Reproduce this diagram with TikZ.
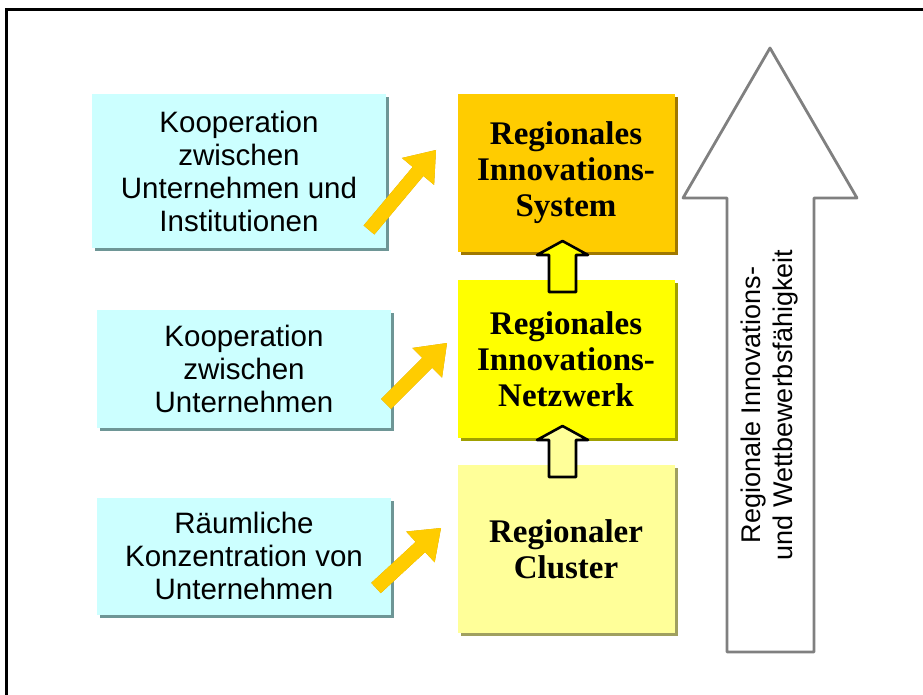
\documentclass[tikz,border=0pt]{standalone}
\usepackage{fontspec}
\setmainfont{Liberation Serif}
\newfontfamily\arialfont{Liberation Sans}
\usetikzlibrary{calc,shadows}
\definecolor{cyanfill}{HTML}{CCFFFF}
\definecolor{cyanshadow}{HTML}{6E9696}
\definecolor{sysfill}{HTML}{FFCC00}
\definecolor{sysshadow}{HTML}{A07800}
\definecolor{netfill}{HTML}{FFFF00}
\definecolor{netshadow}{HTML}{A0A000}
\definecolor{clufill}{HTML}{FFFF99}
\definecolor{clushadow}{HTML}{A0A060}
\definecolor{arrgold}{HTML}{FFCC00}
\definecolor{arrdark}{HTML}{C89600}
\definecolor{biggray}{HTML}{808080}
\tikzset{
  cyanbox/.style={fill=cyanfill, minimum width=294pt, inner sep=0pt, align=center,
    font=\arialfont\fontsize{29.5}{33}\selectfont,
    drop shadow={shadow xshift=3pt, shadow yshift=-3pt, fill=cyanshadow, opacity=1}},
  midbox/.style={minimum width=217pt, inner sep=0pt, align=center,
    font=\bfseries\fontsize{33}{36}\selectfont},
  upblock/.style={draw=black, line width=2.6pt, line join=round},
  bigarrow/.style={draw=biggray, fill=white, line width=2.8pt, line join=round},
}
\newcommand\diagarrow[2]{%
  \fill[arrdark, shift={(2.5pt,-2.5pt)}]
    ($(#1)!7pt!90:(#2)$) -- ($($(#2)!28pt!(#1)$)!7pt!-90:(#1)$) -- ($($(#2)!28pt!(#1)$)!21pt!-90:(#1)$) -- (#2)
    -- ($($(#2)!28pt!(#1)$)!21pt!90:(#1)$) -- ($($(#2)!28pt!(#1)$)!7pt!90:(#1)$) -- ($(#1)!7pt!-90:(#2)$) -- cycle;
  \fill[arrgold]
    ($(#1)!7pt!90:(#2)$) -- ($($(#2)!28pt!(#1)$)!7pt!-90:(#1)$) -- ($($(#2)!28pt!(#1)$)!21pt!-90:(#1)$) -- (#2)
    -- ($($(#2)!28pt!(#1)$)!21pt!90:(#1)$) -- ($($(#2)!28pt!(#1)$)!7pt!90:(#1)$) -- ($(#1)!7pt!-90:(#2)$) -- cycle;
}
\begin{document}
\begin{tikzpicture}[x=1pt,y=-1pt]
\useasboundingbox (0,0) rectangle (923,695);
% frame
\draw[line width=3pt] (6,700) -- (6,9.5) -- (930,9.5);

% left boxes
\node[cyanbox, minimum height=154pt] (k1) at (239,171) {Kooperation\\zwischen\\Unternehmen und\\Institutionen};
\node[cyanbox, minimum height=118pt] (k2) at (244,369) {Kooperation\\zwischen\\Unternehmen};
\node[cyanbox, minimum height=117pt] (k3) at (244,556) {Räumliche\\Konzentration von\\Unternehmen};

% middle boxes
\node[midbox, fill=sysfill, minimum height=158pt,
  drop shadow={shadow xshift=3pt, shadow yshift=-3pt, fill=sysshadow, opacity=1}] (sys) at (566,173) {Regionales\\Innovations-\\System};
\node[midbox, fill=netfill, minimum height=158pt,
  drop shadow={shadow xshift=3pt, shadow yshift=-3pt, fill=netshadow, opacity=1}] (net) at (566,359) {Regionales\\Innovations-\\Netzwerk};
\node[midbox, fill=clufill, minimum height=168pt,
  drop shadow={shadow xshift=3pt, shadow yshift=-3pt, fill=clushadow, opacity=1}] (clu) at (566,549) {Regionaler\\Cluster};

% small up arrows between middle boxes
\draw[upblock, fill=netfill] (562.5,241) -- (588,255) -- (576,255) -- (576,292) -- (549,292) -- (549,255) -- (537,255) -- cycle;
\draw[upblock, fill=clufill] (562.5,426) -- (588,440) -- (576,440) -- (576,477) -- (549,477) -- (549,440) -- (537,440) -- cycle;

% diagonal arrows
\coordinate (t1) at (369,230); \coordinate (p1) at (436,150);
\coordinate (t2) at (386,404); \coordinate (p2) at (447,343);
\coordinate (t3) at (376,588); \coordinate (p3) at (441,528);
\diagarrow{t1}{p1}
\diagarrow{t2}{p2}
\diagarrow{t3}{p3}

% big gray arrow
\draw[bigarrow] (770,48) -- (857,198) -- (814,198) -- (814,652) -- (727,652) -- (727,198) -- (683,198) -- cycle;
\node[rotate=90, align=center, font=\arialfont\fontsize{27}{32}\selectfont] (big) at (770,405) {Regionale Innovations-\\und Wettbewerbsfähigkeit};
\end{tikzpicture}
\end{document}
